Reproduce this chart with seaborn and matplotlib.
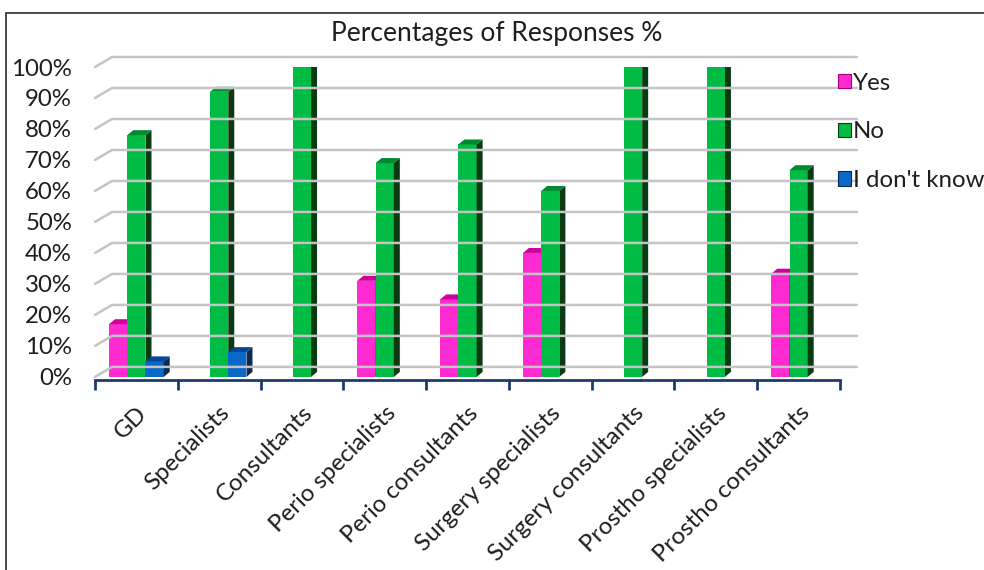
import matplotlib
matplotlib.use("Agg")
import matplotlib.pyplot as plt
from matplotlib.patches import Polygon, Rectangle, Patch
from matplotlib.lines import Line2D
import seaborn as sns
import pandas as pd

# Survey answers per respondent group (percent of responses)
categories = ["GD", "Specialists", "Consultants", "Perio specialists",
              "Perio consultants", "Surgery specialists", "Surgery consultants",
              "Prostho specialists", "Prostho consultants"]
yes_pct = [17, 0, 0, 31, 25, 40, 0, 0, 33.3]
no_pct = [78, 92, 100, 69, 75, 60, 100, 100, 66.7]
dont_know_pct = [5, 8, 0, 0, 0, 0, 0, 0, 0]
series_names = ["Yes", "No", "I don't know"]
y_ticks = list(range(0, 101, 10))

face_colors = {"Yes": "#FF2BD2", "No": "#00BB44", "I don't know": "#0A68C8"}
side_colors = {"Yes": "#A8007E", "No": "#0B3A12", "I don't know": "#0A2A55"}
top_colors = {"Yes": "#D0009E", "No": "#008A30", "I don't know": "#06459A"}

rows = []
for series, vals in zip(series_names, [yes_pct, no_pct, dont_know_pct]):
    for cat, v in zip(categories, vals):
        rows.append({"Group": cat, "Response": series, "Percent": v})
df = pd.DataFrame(rows)

sns.set_theme(style="white")
plt.rcParams["font.family"] = ["Lato", "DejaVu Sans"]

W, H = 984, 570
fig = plt.figure(figsize=(W / 100, H / 100), dpi=100)
ax = fig.add_axes([95 / W, 1 - 380 / H, (840 - 95) / W, (380 - 67) / H])

sns.barplot(data=df, x="Group", y="Percent", hue="Response", order=categories,
            hue_order=series_names, palette=face_colors, width=0.66,
            saturation=1, errorbar=None, legend=False, ax=ax,
            edgecolor="none", linewidth=0)

TXT = "#1E1E1E"
FS = 17.3
ax.set_ylim(-1, 100)
ax.set_xlim(-0.5, len(categories) - 0.5)
ax.set_yticks(y_ticks)
ax.set_yticklabels([f"{v}%" for v in y_ticks], fontsize=FS, color=TXT)
ax.set_xlabel("")
ax.set_ylabel("")
ax.set_xticks(range(len(categories)))
ax.set_xticklabels(categories, rotation=45, ha="right", rotation_mode="anchor",
                   fontsize=FS, color=TXT)
ax.set_xticks([i - 0.5 for i in range(len(categories) + 1)], minor=True)
ax.tick_params(axis="x", which="both", bottom=True)
ax.tick_params(axis="x", which="major", length=0, pad=16)
ax.tick_params(axis="x", which="minor", length=7, width=2, color="#1F3A6E",
               direction="out")
ax.tick_params(axis="y", length=0, pad=16.5)
for side in ["top", "right", "left"]:
    ax.spines[side].set_visible(False)
ax.spines["bottom"].set_color("#1F3A6E")
ax.spines["bottom"].set_linewidth(2)
ax.spines["bottom"].set_zorder(50)
ax.set_facecolor("none")

fig.canvas.draw()

# depth of the pseudo-3D walls, in pixels
DX, DY = 17, 10
to_px = ax.transData.transform
x_left_px = ax.transAxes.transform((0, 0))[0]
x_right_px = ax.transAxes.transform((1, 0))[0]

# back-wall gridlines with the slanted side edges
for v in y_ticks:
    _, yp = to_px((0, v))
    fig.add_artist(Line2D([x_left_px, x_left_px + DX, x_right_px + DX],
                          [yp, yp + DY, yp + DY], transform=None,
                          color="#C4C4C4", lw=1.8, zorder=0.5))

# give each bar a side and top face; stack them left to right
bars = [p for p in ax.patches if isinstance(p, Rectangle)]
bar_info = []
for p, (series, cat) in zip(bars, [(s, c) for s in series_names for c in categories]):
    bar_info.append((p.get_x(), p, series))
bar_info.sort(key=lambda t: t[0])
dx, dy = 6, 5
for rank, (_, p, series) in enumerate(bar_info):
    z = 2 + rank * 0.01
    p.set_zorder(z)
    h = p.get_height()
    if h <= 0:
        continue
    x0, y0 = to_px((p.get_x(), 0))
    x1, y1 = to_px((p.get_x() + p.get_width(), h))
    side = Polygon([(x1, y0), (x1 + dx, y0 + dy), (x1 + dx, y1 + dy), (x1, y1)],
                   closed=True, transform=None, facecolor=side_colors[series],
                   edgecolor="none", zorder=z + 0.004)
    top = Polygon([(x0, y1), (x0 + dx, y1 + dy), (x1 + dx, y1 + dy), (x1, y1)],
                  closed=True, transform=None, facecolor=top_colors[series],
                  edgecolor="none", zorder=z + 0.005)
    ax.add_artist(side)
    ax.add_artist(top)

handles = [Patch(facecolor=face_colors[s], edgecolor=side_colors[s], linewidth=0.8)
           for s in series_names]
fig.legend(handles, series_names, loc="upper left",
           bbox_to_anchor=(828 / W, 1 - 63 / H), frameon=False, fontsize=FS,
           handlelength=0.55, handleheight=0.55, handletextpad=0.1,
           labelspacing=1.15, borderaxespad=0, labelcolor=TXT)

fig.text(497 / W, 1 - 33 / H, "Percentages of Responses %", ha="center",
         va="center", fontsize=19, color=TXT)

# chart-area border
fig.add_artist(Rectangle((6 / W, -0.1), 1.2, 1 - 13 / H + 0.1, fill=False,
                         edgecolor="#3A3A3A", lw=1.3, transform=fig.transFigure))

fig.savefig("out.png", dpi=100)
